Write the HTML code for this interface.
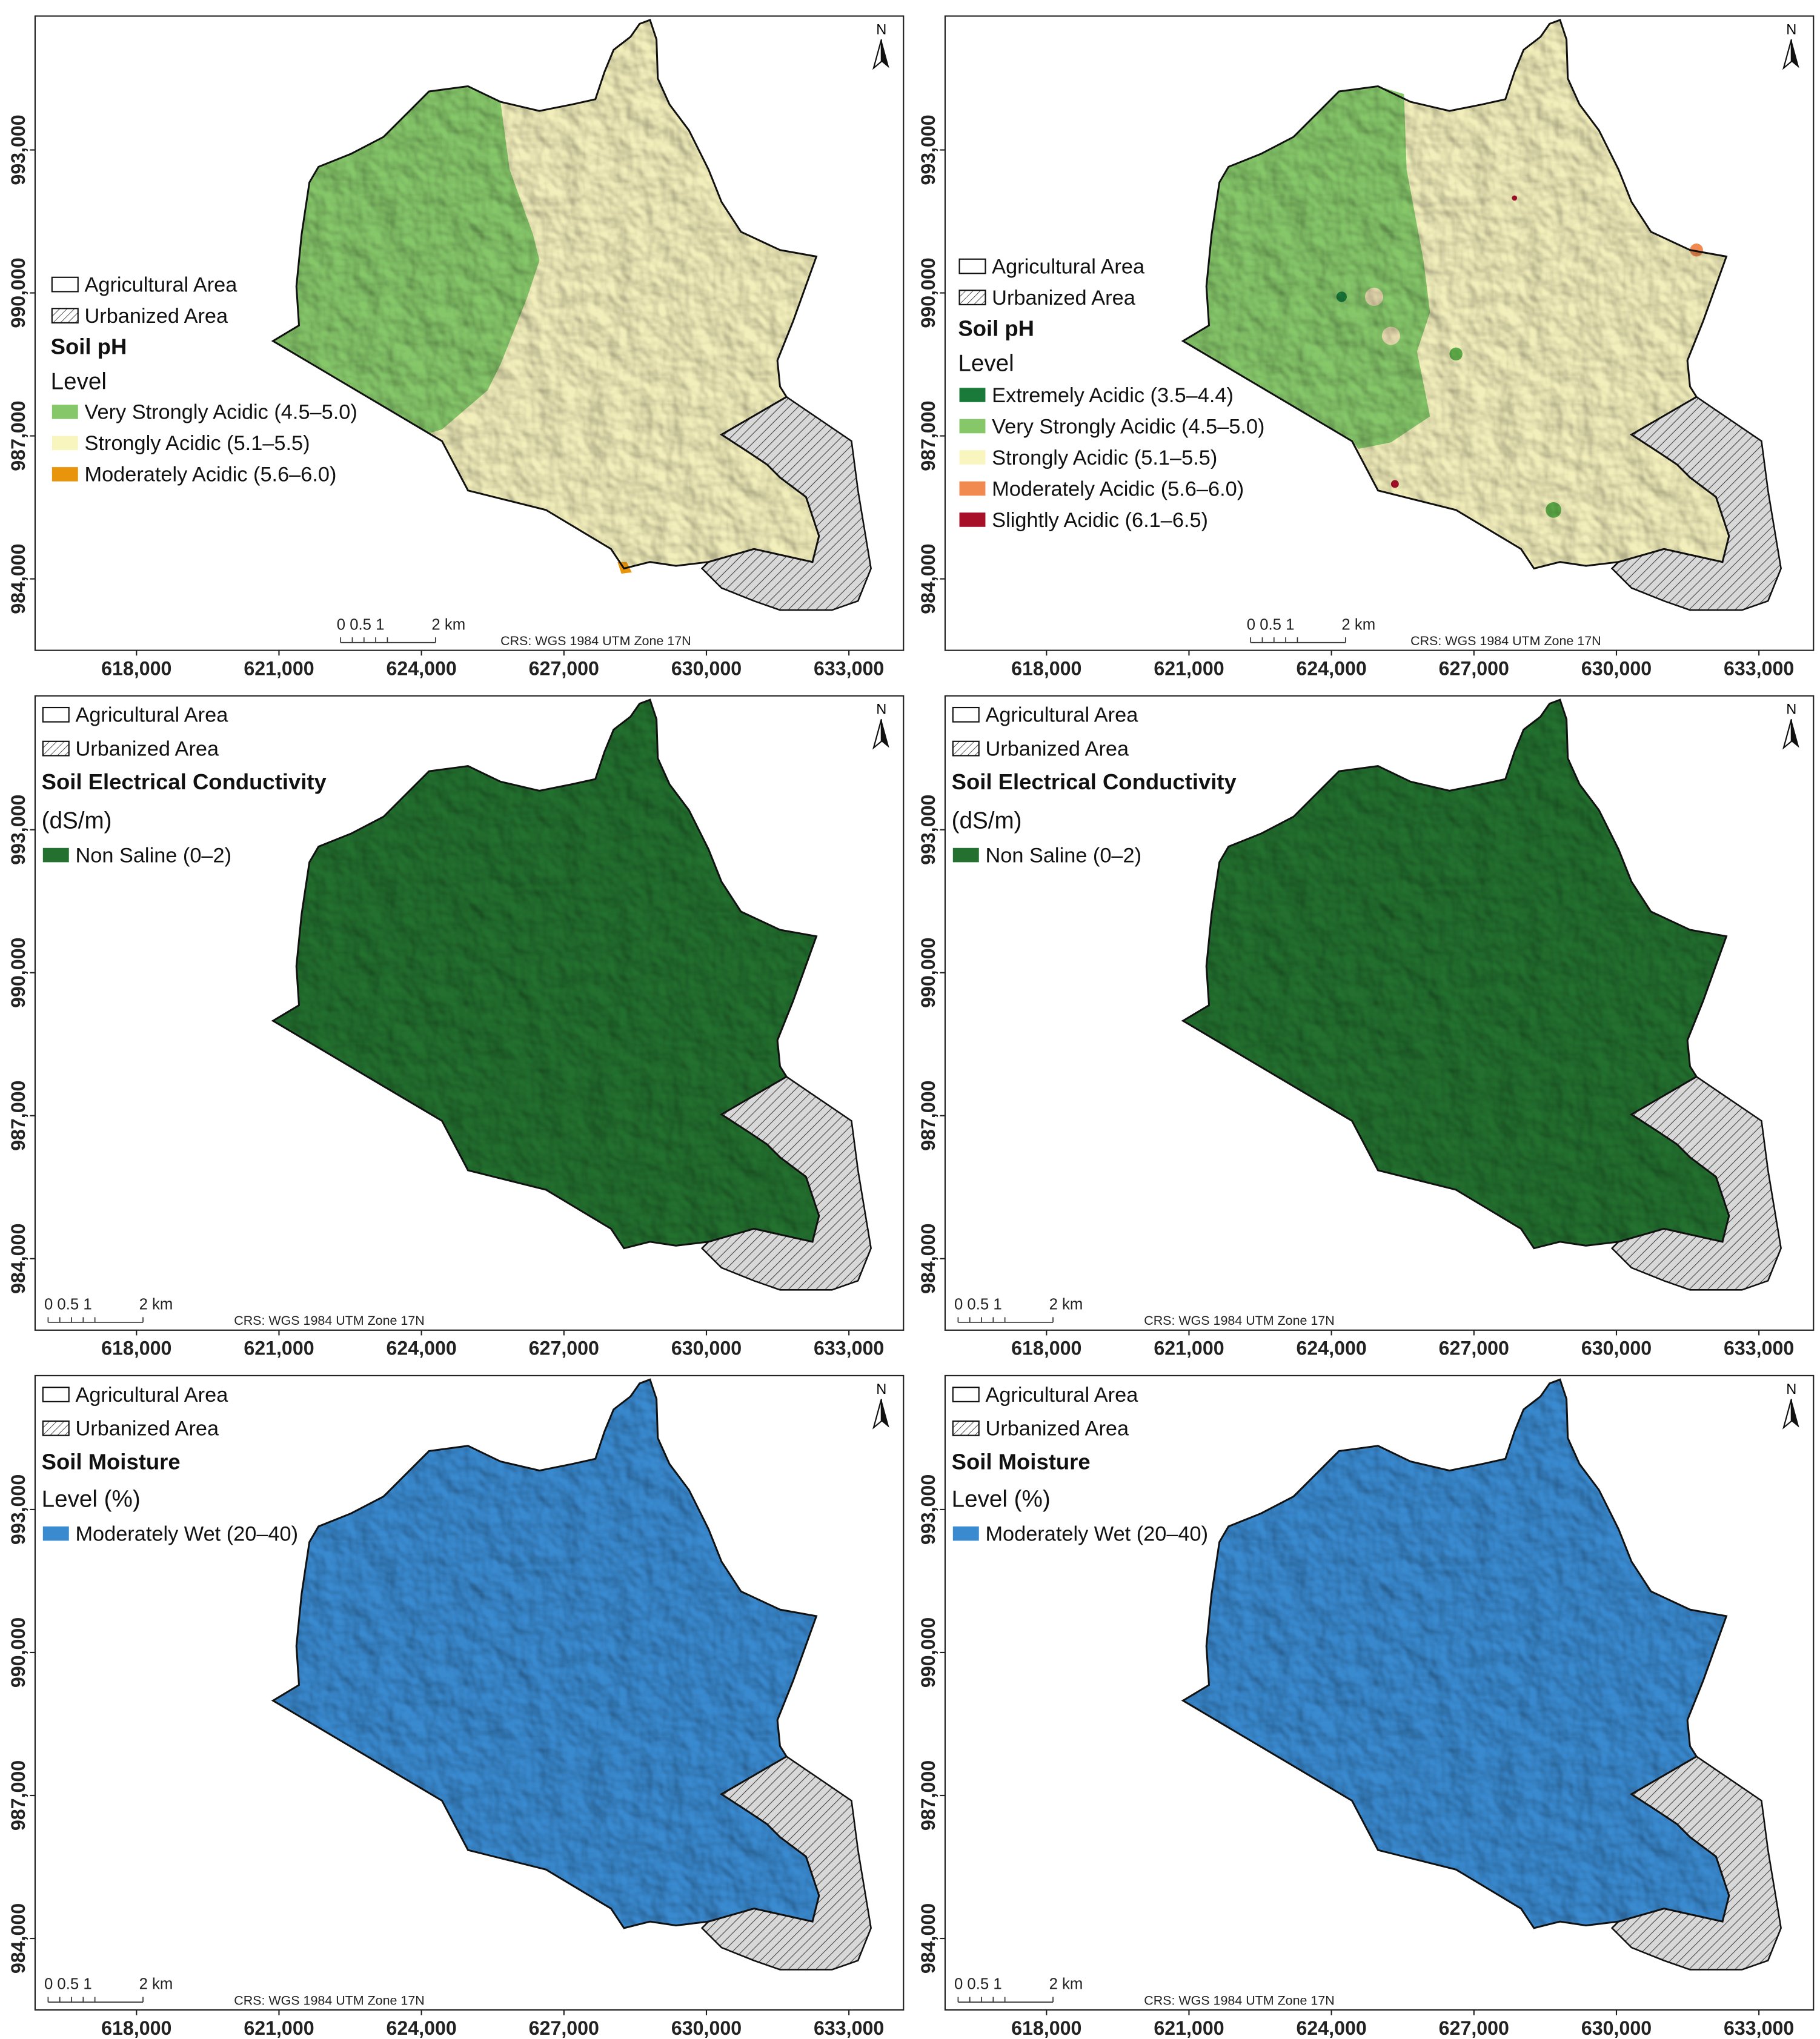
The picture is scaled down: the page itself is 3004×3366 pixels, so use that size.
<!DOCTYPE html>
<html><head><meta charset="utf-8"><style>
html,body{margin:0;padding:0;background:#fff;}
svg{display:block;}
text{font-family:"Liberation Sans","DejaVu Sans",sans-serif;}
</style></head><body>
<svg id="fig" xmlns="http://www.w3.org/2000/svg" width="3004" height="3366" viewBox="0 0 1400 1568">
<defs>
<pattern id="hatch" patternUnits="userSpaceOnUse" width="5" height="5" patternTransform="rotate(45)">
<rect width="5" height="5" fill="#d8d8d8"/><line x1="0" y1="0" x2="0" y2="5" stroke="#444" stroke-width="1"/></pattern>
<pattern id="hatchL" patternUnits="userSpaceOnUse" width="4" height="4" patternTransform="rotate(45)">
<rect width="4" height="4" fill="#fff"/><line x1="0" y1="0" x2="0" y2="4" stroke="#333" stroke-width="0.8"/></pattern>
<filter id="shade" x="0" y="0" width="100%" height="100%">
<feTurbulence type="fractalNoise" baseFrequency="0.05" numOctaves="3" seed="4" result="n"/>
<feDiffuseLighting in="n" surfaceScale="3" lighting-color="#fff" result="l"><feDistantLight azimuth="315" elevation="50"/></feDiffuseLighting>
<feColorMatrix in="l" type="matrix" values="0 0 0 0 0  0 0 0 0 0  0 0 0 0 0  -0.6 0 0 0 0.55"/>
</filter>
</defs>
</svg>
<script>
const xTicks=["618,000","621,000","624,000","627,000","630,000","633,000"];
const xTickPos=[618000,621000,624000,627000,630000,633000];
const yTicks=["993,000","990,000","987,000","984,000"];
const yTickPos=[993000,990000,987000,984000];
const phLeftLabels=["Very Strongly Acidic (4.5–5.0)","Strongly Acidic (5.1–5.5)","Moderately Acidic (5.6–6.0)"];
const phLeftColors=["#86c76a","#f8f5bf","#e8950c"];
const phRightLabels=["Extremely Acidic (3.5–4.4)","Very Strongly Acidic (4.5–5.0)","Strongly Acidic (5.1–5.5)","Moderately Acidic (5.6–6.0)","Slightly Acidic (6.1–6.5)"];
const phRightColors=["#1a7a3a","#86c76a","#f8f5bf","#f08a50","#a8102a"];

const NS="http://www.w3.org/2000/svg";
const svg=document.getElementById('fig');
function el(tag,attrs,parent){const e=document.createElementNS(NS,tag);for(const k in attrs)e.setAttribute(k,attrs[k]);(parent||svg).appendChild(e);return e;}
function X(v){return 105+(v-618000)*(109.6/3000);}
function Y(v){return 115+(993000-v)*(110/3000);}

const AG="210,262 230,250 228,220 232,180 238,140 245,128 270,118 295,105 315,85 330,70 360,66 385,78 415,85 440,80 458,76 465,55 472,38 485,28 492,18 500,15 505,30 506,60 515,80 530,100 545,130 555,155 570,178 600,192 628,197 610,247 598,277 600,297 605,305 555,334 575,347 590,357 600,367 620,382 630,412 625,432 580,422 545,432 520,435 500,432 480,437 470,422 420,392 360,377 340,339";
const URB="605,305 630,322 655,339 660,377 670,437 660,462 640,469 600,469 580,462 555,452 540,437 545,432 580,422 625,432 630,412 620,382 600,367 590,357 575,347 555,334";
const GREEN_L="210,262 230,250 228,220 232,180 238,140 245,128 270,118 295,105 315,85 330,70 360,66 385,78 392,130 410,180 415,200 405,230 385,280 375,300 340,330 330,333";
const GREEN_R="210,262 230,250 228,220 232,180 238,140 245,128 270,118 295,105 315,85 330,70 360,66 380,72 382,130 395,200 400,240 390,270 400,320 370,340 345,345 340,339";

const panels=[
 {dx:0,dy:0,type:'phL'},{dx:700,dy:0,type:'phR'},
 {dx:0,dy:523,type:'ec'},{dx:700,dy:523,type:'ec'},
 {dx:0,dy:1046,type:'sm'},{dx:700,dy:1046,type:'sm'}];

panels.forEach((p,i)=>{
 const g=el('g',{transform:`translate(${p.dx},${p.dy})`});
 
 
 const fr=el('rect',{x:27,y:12,width:668,height:488,fill:'#fff',stroke:'#222','stroke-width':1},g);
 
 
 let base=p.type==='ec'?'#23702f':p.type==='sm'?'#3a8ad0':'#f3efbc';
 const ag=el('polygon',{points:AG,fill:base},g);
 
 
 if(p.type==='phL'||p.type==='phR'){
  const gr=el('polygon',{points:p.type==='phL'?GREEN_L:GREEN_R,fill:'#86c76a'},g);
  
  
 }
 if(p.type==='phR'){
  [[332,228,4,'#1a7a3a'],[357,228,7,'#e8dcb0'],[370,258,7,'#e8dcb0'],[495,392,6,'#5fae4a'],[605,192,5,'#f08a50'],[373,372,3,'#a8102a'],[465,152,2,'#a8102a'],[420,272,5,'#5fae4a']].forEach(c=>{
   const s=el('circle',{cx:c[0],cy:c[1],r:c[2],fill:c[3]},g);
   
   
  });
 }
 if(p.type==='phL'){
  const s=el('polygon',{points:'475,432 482,432 486,440 478,441',fill:'#e8950c'},g);
  
  
 }
 const cp=el('clipPath',{id:'cp'+i},g);
 el('polygon',{points:AG},cp);
 el('polygon',{points:URB},cp);
 const sh=el('rect',{x:205,y:10,width:470,height:465,filter:'url(#shade)',opacity:0.9,'clip-path':'url(#cp'+i+')'},g);
 
 
 const ur=el('polygon',{points:URB,fill:'url(#hatch)',stroke:'#111','stroke-width':1.2},g);
 
 
 el('polygon',{points:AG,fill:'none',stroke:'#111','stroke-width':1.4},g);
 xTicks.forEach((t,k)=>{
  const x=X(xTickPos[k]);
  el('line',{x1:x,y1:500,x2:x,y2:504,stroke:'#222'},g);
  const tx=el('text',{x:x,y:519,'font-size':15,'font-weight':'bold','text-anchor':'middle',fill:'#222'},g);
  tx.textContent=t;
  
  
 });
 yTicks.forEach((t,k)=>{
  const y=Y(yTickPos[k]);
  el('line',{x1:23,y1:y,x2:27,y2:y,stroke:'#222'},g);
  const tx=el('text',{x:0,y:0,'font-size':15,'font-weight':'bold','text-anchor':'middle',fill:'#222',transform:`translate(19,${y}) rotate(-90)`},g);
  tx.textContent=t;
  
  
 });
 const na=el('g',{},g);
 
 
 el('polygon',{points:'678,30 672,52 678,47',fill:'#fff',stroke:'#111','stroke-width':1},na);
 el('polygon',{points:'678,30 684,52 678,47',fill:'#111'},na);
 const nt=el('text',{x:678,y:26,'font-size':11,'text-anchor':'middle'},na);nt.textContent='N';
 const top=p.type==='phL'||p.type==='phR';
 const sx=top?262:37, sy=top?490:1013-523, cx=top?385:180, cy=top?496:1019-523;
 const sb=el('g',{},g);
 
 
 el('line',{x1:sx,y1:sy+4,x2:sx+73,y2:sy+4,stroke:'#333','stroke-width':0.8},sb);
 [0,9,18,27,36,73].forEach(o=>el('line',{x1:sx+o,y1:sy,x2:sx+o,y2:sy+4,stroke:'#333','stroke-width':0.8},sb));
 const st=el('text',{x:sx-3,y:sy-6,'font-size':12,fill:'#222'},sb);
 st.textContent='0 0.5 1';
 const st2=el('text',{x:sx+70,y:sy-6,'font-size':12,fill:'#222'},sb);
 st2.textContent='2 km';
 const crs=el('text',{x:cx,y:cy,'font-size':10,fill:'#222'},g);
 crs.textContent='CRS: WGS 1984 UTM Zone 17N';
 
 
 let items=[];
 if(p.type==='phL') items=[['box','Agricultural Area',218],['hatch','Urbanized Area',242],['b','Soil pH',266],['t','Level',292]].concat(phLeftLabels.map((l,k)=>[phLeftColors[k],l,316+24*k]));
 if(p.type==='phR') items=[['box','Agricultural Area',204],['hatch','Urbanized Area',228],['b','Soil pH',252],['t','Level',278]].concat(phRightLabels.map((l,k)=>[phRightColors[k],l,303+24*k]));
 if(p.type==='ec') items=[['box','Agricultural Area',549-523],['hatch','Urbanized Area',575-523],['b','Soil Electrical Conductivity',601-523],['t','(dS/m)',630-523],['#23702f','Non Saline (0–2)',657-523]];
 if(p.type==='sm') items=[['box','Agricultural Area',1072-1046],['hatch','Urbanized Area',1098-1046],['b','Soil Moisture',1124-1046],['t','Level (%)',1152-1046],['#3a8ad0','Moderately Wet (20–40)',1179-1046]];
 const lx=top?(p.type==='phL'?39:37):32;
 const lg=el('g',{},g);
 
 
 items.forEach(it=>{
  const [k,label,y]=it;
  let tx;
  if(k==='b'){tx=el('text',{x:lx,y:y+6,'font-size':17,'font-weight':'bold',fill:'#111'},lg);}
  else if(k==='t'){tx=el('text',{x:lx,y:y+7,'font-size':18,fill:'#111'},lg);}
  else{
   const fill=k==='box'?'#fff':k==='hatch'?'url(#hatchL)':k;
   el('rect',{x:lx+1,y:y-5,width:20,height:11,fill:fill,stroke:(k==='box'||k==='hatch')?'#111':'none','stroke-width':1},lg);
   tx=el('text',{x:lx+26,y:y+6,'font-size':16,fill:'#111'},lg);
  }
  tx.textContent=label;
  
  
 });
});
</script>
</body></html>
